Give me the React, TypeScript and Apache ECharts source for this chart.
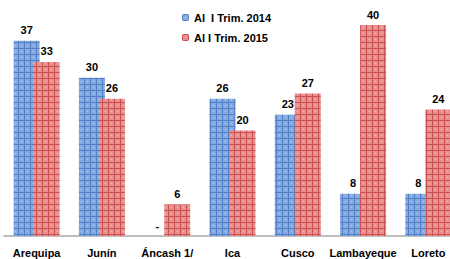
import React, { useEffect, useRef } from "react";
import * as echarts from "echarts";

const categories = ["Arequipa", "Junín", "Áncash 1/", "Ica", "Cusco", "Lambayeque", "Loreto"];
const series2014 = [37, 30, 0, 26, 23, 8, 8];
const series2015 = [33, 26, 6, 20, 27, 40, 24];
const seriesNames = ["Al  I Trim. 2014", "Al I Trim. 2015"];

const FONT = "'Liberation Sans Narrow', 'Arial Narrow', 'Liberation Sans', Arial, sans-serif";

function makePattern(base: string, line: string, light: string) {
  const c = document.createElement("canvas");
  c.width = 6;
  c.height = 6;
  const ctx = c.getContext("2d")!;
  ctx.fillStyle = base;
  ctx.fillRect(0, 0, 6, 6);
  ctx.fillStyle = light;
  ctx.fillRect(3, 3, 1, 1);
  ctx.fillStyle = line;
  ctx.fillRect(0, 0, 1, 6);
  ctx.fillRect(0, 0, 6, 1);
  return c.toDataURL();
}

export default function App() {
  const ref = useRef<HTMLDivElement>(null);
  useEffect(() => {
    document.body.style.margin = "0";
    const chart = echarts.init(ref.current!, undefined, { renderer: "svg" });
    const bluePat = { image: makePattern("#86aadf", "#5381c8", "#b8cdef"), repeat: "repeat" };
    const redPat = { image: makePattern("#e69090", "#cd5050", "#f2bcbc"), repeat: "repeat" };
    const labelStyle = {
      show: true,
      position: "top",
      distance: 5,
      fontFamily: FONT,
      fontWeight: "bold",
      fontSize: 11,
      color: "#000",
      formatter: (p: any) => (p.value === 0 ? "-" : String(p.value)),
    };
    chart.setOption({
      animation: false,
      grid: { left: 4, top: 25, bottom: 23, width: 457, outerBoundsMode: "none", containLabel: false },
      legend: {
        orient: "vertical",
        left: 182,
        top: 12,
        padding: 0,
        itemWidth: 7,
        itemHeight: 7,
        itemGap: 9,
        textStyle: { fontFamily: FONT, fontWeight: "bold", fontSize: 11, color: "#000" },
        data: seriesNames,
      },
      xAxis: {
        type: "category",
        data: categories,
        axisLine: { lineStyle: { color: "#bfbfbf", width: 2 } },
        axisTick: { show: false },
        axisLabel: {
          interval: 0,
          fontFamily: FONT,
          fontWeight: "bold",
          fontSize: 11,
          color: "#000",
          margin: 11,
        },
      },
      yAxis: { type: "value", min: 0, max: 40, show: false, splitLine: { show: false } },
      series: [
        {
          name: seriesNames[0],
          type: "bar",
          data: series2014,
          barWidth: 26,
          barGap: "-23%",
          itemStyle: { color: bluePat },
          label: labelStyle,
        },
        {
          name: seriesNames[1],
          type: "bar",
          data: series2015,
          barWidth: 26,
          itemStyle: { color: redPat },
          label: labelStyle,
        },
      ],
    });
    return () => chart.dispose();
  }, []);
  return <div ref={ref} style={{ width: 450, height: 259 }} />;
}
